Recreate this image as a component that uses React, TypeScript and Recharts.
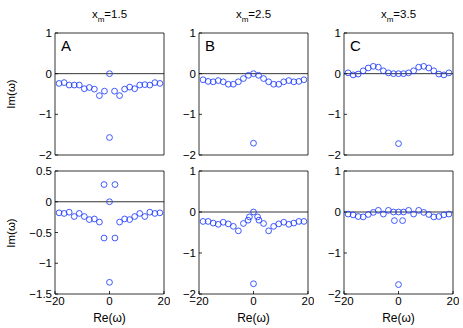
import React from 'react';
import { ScatterChart, Scatter, XAxis, YAxis, ReferenceLine } from 'recharts';

// Real part grid shared by all panels
const reGrid = [-18.5, -16.65, -14.8, -12.95, -11.1, -9.25, -7.4, -5.55, -3.7, -1.85, 0, 1.85, 3.7, 5.55, 7.4, 9.25, 11.1, 12.95, 14.8, 16.65, 18.5];

// Imag parts per panel (null = no point at that grid position)
const imATop = [-0.24, -0.22, -0.28, -0.28, -0.28, -0.37, -0.34, -0.38, -0.54, -0.43, 0, -0.43, -0.54, -0.38, -0.33, -0.37, -0.28, -0.27, -0.28, -0.22, -0.24];
const imBTop = [-0.15, -0.19, -0.2, -0.17, -0.2, -0.26, -0.26, -0.2, -0.12, -0.04, 0, -0.04, -0.12, -0.2, -0.26, -0.26, -0.2, -0.17, -0.2, -0.19, -0.15];
const imCTop = [0.02, -0.03, -0.01, 0.07, 0.14, 0.18, 0.16, 0.07, 0.02, 0, 0, 0, 0.02, 0.07, 0.16, 0.18, 0.14, 0.07, -0.01, -0.03, 0.02];
const imABot = [-0.18, -0.19, -0.17, -0.24, -0.19, -0.24, -0.29, -0.28, -0.33, null, 0, null, -0.33, -0.28, -0.29, -0.24, -0.19, -0.24, -0.17, -0.19, -0.18];
const imBBot = [-0.23, -0.23, -0.27, -0.3, -0.25, -0.29, -0.35, -0.46, -0.28, null, 0, null, -0.28, -0.46, -0.35, -0.29, -0.25, -0.3, -0.27, -0.23, -0.23];
const imCBot = [-0.05, -0.07, -0.11, -0.12, -0.06, -0.01, 0.04, -0.05, 0.04, 0, 0, 0, 0.04, -0.05, 0.04, -0.01, -0.06, -0.12, -0.11, -0.07, -0.05];

// Extra eigenvalues [re, im]
const extraATop = [[0, -1.57]];
const extraBTop = [[0, -1.71]];
const extraCTop = [[0, -1.72]];
const extraABot = [[-2.0, 0.28], [2.0, 0.28], [-2.0, -0.59], [2.0, -0.59], [0, -1.31]];
const extraBBot = [[-2.0, -0.2], [-1.5, -0.12], [1.5, -0.12], [2.0, -0.2], [0, -1.75]];
const extraCBot = [[-1.5, -0.21], [1.5, -0.21], [0, -1.77]];

const titles = ['1.5', '2.5', '3.5'];
const letters = ['A', 'B', 'C'];
const xTicks = [-20, 0, 20];
const yTicksStd = [-2, -1, 0, 1];
const yTicksABot = [-1.5, -1, -0.5, 0, 0.5];

const FONT = '"Liberation Sans", Arial, Helvetica, sans-serif';
const BLUE = '#1f3cff';

const colX = [55, 199, 344];
const rowY = [33, 171];
const plotW = 109;
const rowH = [122, 123];

const build = (im: (number | null)[], extra: number[][]) => {
  const pts: { re: number; im: number }[] = [];
  reGrid.forEach((re, i) => {
    const v = im[i];
    if (v !== null && v !== undefined) pts.push({ re, im: v });
  });
  extra.forEach(([re, v]) => pts.push({ re, im: v }));
  return pts;
};

const panels = [
  { col: 0, row: 0, data: build(imATop, extraATop), yDomain: [-2, 1], yTicks: yTicksStd },
  { col: 1, row: 0, data: build(imBTop, extraBTop), yDomain: [-2, 1], yTicks: yTicksStd },
  { col: 2, row: 0, data: build(imCTop, extraCTop), yDomain: [-2, 1], yTicks: yTicksStd },
  { col: 0, row: 1, data: build(imABot, extraABot), yDomain: [-1.5, 0.5], yTicks: yTicksABot },
  { col: 1, row: 1, data: build(imBBot, extraBBot), yDomain: [-2, 1], yTicks: yTicksStd },
  { col: 2, row: 1, data: build(imCBot, extraCBot), yDomain: [-2, 1], yTicks: yTicksStd },
];

const fmt = (v: number) => String(v).replace('-', '\u2212');

const LEFT_W = 40;
const TOP_H = 6;
const RIGHT_W = 6;
const BOT_H = 30;

const Circle = (p: any) => (
  <circle cx={p.cx} cy={p.cy} r={2.9} fill="none" stroke={BLUE} strokeWidth={0.85} />
);

const tickStyle = { fontSize: 11.5, fill: '#000', fontFamily: FONT };
const axisLine = { stroke: '#000', strokeWidth: 0.8 };

export default function App() {
  return (
    <div style={{ position: 'absolute', left: 0, top: 0, width: 463, height: 328, background: '#fff', fontFamily: FONT }}>
      {panels.map((p, idx) => {
        const h = rowH[p.row];
        const left = colX[p.col] - LEFT_W;
        const top = rowY[p.row] - TOP_H;
        return (
          <div key={idx} style={{ position: 'absolute', left, top }}>
            <ScatterChart
              width={LEFT_W + plotW + RIGHT_W}
              height={TOP_H + h + BOT_H}
              margin={{ top: 0, right: 0, bottom: 0, left: 0 }}
            >
              <XAxis
                xAxisId="b"
                dataKey="re"
                type="number"
                domain={[-20, 20]}
                ticks={xTicks}
                interval={0}
                orientation="bottom"
                height={BOT_H}
                tickSize={-3}
                tickMargin={6}
                tick={p.row === 1 ? tickStyle : false}
                tickFormatter={fmt}
                axisLine={axisLine}
                tickLine={axisLine}
              />
              <XAxis
                xAxisId="t"
                type="number"
                domain={[-20, 20]}
                ticks={xTicks}
                interval={0}
                orientation="top"
                height={TOP_H}
                tickSize={-3}
                tick={false}
                axisLine={axisLine}
                tickLine={axisLine}
              />
              <YAxis
                yAxisId="l"
                dataKey="im"
                type="number"
                domain={p.yDomain}
                ticks={p.yTicks}
                interval={0}
                orientation="left"
                width={LEFT_W}
                tickSize={-3}
                tickMargin={6}
                tick={tickStyle}
                tickFormatter={fmt}
                axisLine={axisLine}
                tickLine={axisLine}
              />
              <YAxis
                yAxisId="r"
                type="number"
                domain={p.yDomain}
                ticks={p.yTicks}
                interval={0}
                orientation="right"
                width={RIGHT_W}
                tickSize={-3}
                tick={false}
                axisLine={axisLine}
                tickLine={axisLine}
              />
              <ReferenceLine xAxisId="b" yAxisId="l" y={0} stroke="#000" strokeWidth={0.8} />
              <Scatter
                xAxisId="b"
                yAxisId="l"
                data={p.data}
                shape={Circle}
                isAnimationActive={false}
              />
            </ScatterChart>
          </div>
        );
      })}

      {titles.map((t, i) => (
        <div
          key={'t' + i}
          style={{ position: 'absolute', left: colX[i], top: 8, width: plotW, textAlign: 'center', fontSize: 11.5, lineHeight: '12px' }}
        >
          x<sub style={{ fontSize: 8, verticalAlign: 'baseline', position: 'relative', top: 4 }}>m</sub>={t}
        </div>
      ))}

      {letters.map((l, i) => (
        <div
          key={'l' + i}
          style={{ position: 'absolute', left: colX[i] + 6, top: 38, fontSize: 15, lineHeight: '16px' }}
        >
          {l}
        </div>
      ))}

      {rowY.map((y, r) => (
        <div
          key={'y' + r}
          style={{
            position: 'absolute',
            left: 11 - 30,
            top: y + rowH[r] / 2 - 7,
            width: 60,
            textAlign: 'center',
            fontSize: 11.5,
            lineHeight: '14px',
            transform: 'rotate(-90deg)',
          }}
        >
          Im(ω)
        </div>
      ))}

      {colX.map((x, i) => (
        <div
          key={'x' + i}
          style={{ position: 'absolute', left: x, top: 311, width: plotW, textAlign: 'center', fontSize: 12, lineHeight: '14px' }}
        >
          Re(ω)
        </div>
      ))}
    </div>
  );
}
